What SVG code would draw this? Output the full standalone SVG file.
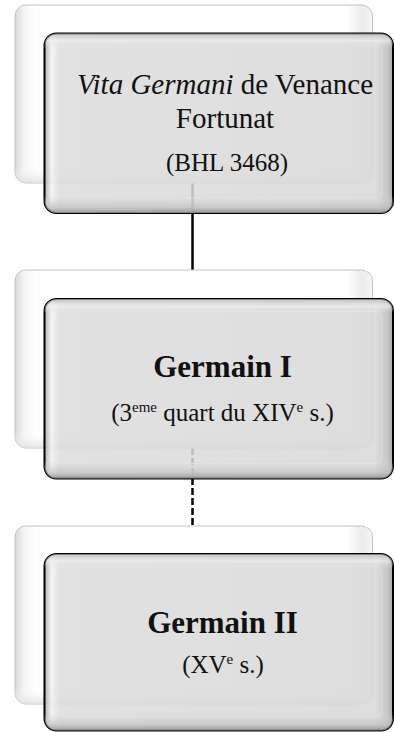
<svg xmlns="http://www.w3.org/2000/svg" width="394" height="732" viewBox="0 0 394 732">
<defs>
<linearGradient id="backH" x1="0" y1="0" x2="1" y2="0">
<stop offset="0" stop-color="#d8d8d8"/>
<stop offset="0.025" stop-color="#f4f4f4"/>
<stop offset="0.06" stop-color="#ffffff"/>
<stop offset="0.93" stop-color="#ffffff"/>
<stop offset="0.97" stop-color="#ececec"/>
<stop offset="1" stop-color="#f6f6f6"/>
</linearGradient>
<linearGradient id="backV" x1="0" y1="0" x2="0" y2="1">
<stop offset="0" stop-color="#ffffff" stop-opacity="0"/>
<stop offset="0.9" stop-color="#ffffff" stop-opacity="0"/>
<stop offset="1" stop-color="#dcdcdc" stop-opacity="0.8"/>
</linearGradient>
<linearGradient id="frontH" x1="0" y1="0" x2="1" y2="0">
<stop offset="0" stop-color="#a8a8a8"/>
<stop offset="0.02" stop-color="#f0f0f0"/>
<stop offset="0.045" stop-color="#dcdcdc"/>
<stop offset="0.95" stop-color="#d8d8d8"/>
<stop offset="0.985" stop-color="#bdbdbd"/>
<stop offset="1" stop-color="#9a9a9a"/>
</linearGradient>
<linearGradient id="frontV" x1="0" y1="0" x2="0" y2="1">
<stop offset="0" stop-color="#b5b5b5" stop-opacity="0.7"/>
<stop offset="0.04" stop-color="#f2f2f2" stop-opacity="0.6"/>
<stop offset="0.08" stop-color="#d8d8d8" stop-opacity="0"/>
<stop offset="0.9" stop-color="#d8d8d8" stop-opacity="0"/>
<stop offset="0.97" stop-color="#bcbcbc" stop-opacity="0.7"/>
<stop offset="1" stop-color="#8e8e8e" stop-opacity="0.9"/>
</linearGradient>
</defs>
<style>
.back { stroke: #c4c4c4; stroke-width: 1; }
.front { stroke: #000; stroke-width: 2; fill-opacity: 0.86; }
.inner { fill: none; stroke: #e6e6e6; stroke-width: 1; stroke-opacity: 0.7; }
.t { font-family: "Liberation Serif", "DejaVu Serif", serif; fill: #111; text-anchor: middle; }
.big { font-size: 29px; }
.sub { font-size: 25px; }
.title { font-size: 31px; font-weight: bold; }
.conn { stroke: #000; stroke-width: 2.5; fill: none; }
</style>

<g id="connectors">
<line class="conn" x1="192.5" y1="183" x2="192.5" y2="270"/>
<line class="conn" x1="192.5" y1="448" x2="192.5" y2="526" stroke-dasharray="7 3"/>
</g>

<g id="node1">
<rect class="back" x="15" y="5" width="357.5" height="178" rx="11" fill="url(#backH)"/>
<rect x="15" y="5" width="357.5" height="178" rx="11" fill="url(#backV)"/>
<rect class="front" x="44.5" y="33.5" width="348.5" height="179.5" rx="12" fill="url(#frontH)"/>
<rect x="44.5" y="33.5" width="348.5" height="179.5" rx="12" fill="url(#frontV)"/>
<rect class="inner" x="56" y="46" width="326" height="152" rx="6"/>
<text class="t big" x="225" y="94"><tspan font-style="italic">Vita Germani</tspan> de Venance</text>
<text class="t big" x="225" y="128">Fortunat</text>
<text class="t sub" x="227" y="171">(BHL 3468)</text>
</g>

<g id="node2">
<rect class="back" x="15" y="270" width="357.5" height="178" rx="11" fill="url(#backH)"/>
<rect x="15" y="270" width="357.5" height="178" rx="11" fill="url(#backV)"/>
<rect class="front" x="44.5" y="299" width="348.5" height="179.5" rx="12" fill="url(#frontH)"/>
<rect x="44.5" y="299" width="348.5" height="179.5" rx="12" fill="url(#frontV)"/>
<rect class="inner" x="56" y="311.5" width="326" height="152" rx="6"/>
<text class="t title" x="222.5" y="377">Germain I</text>
<text class="t sub" x="222.5" y="421">(3<tspan font-size="15" dy="-9">eme</tspan><tspan dy="9"> quart du XIV</tspan><tspan font-size="15" dy="-9">e</tspan><tspan dy="9"> s.)</tspan></text>
</g>

<g id="node3">
<rect class="back" x="15" y="526" width="357.5" height="178" rx="11" fill="url(#backH)"/>
<rect x="15" y="526" width="357.5" height="178" rx="11" fill="url(#backV)"/>
<rect class="front" x="44.5" y="554" width="348.5" height="176.5" rx="12" fill="url(#frontH)"/>
<rect x="44.5" y="554" width="348.5" height="176.5" rx="12" fill="url(#frontV)"/>
<rect class="inner" x="56" y="566.5" width="326" height="150" rx="6"/>
<text class="t title" x="222.5" y="633">Germain II</text>
<text class="t sub" x="223" y="673">(XV<tspan font-size="15" dy="-9">e</tspan><tspan dy="9"> s.)</tspan></text>
</g>
</svg>
